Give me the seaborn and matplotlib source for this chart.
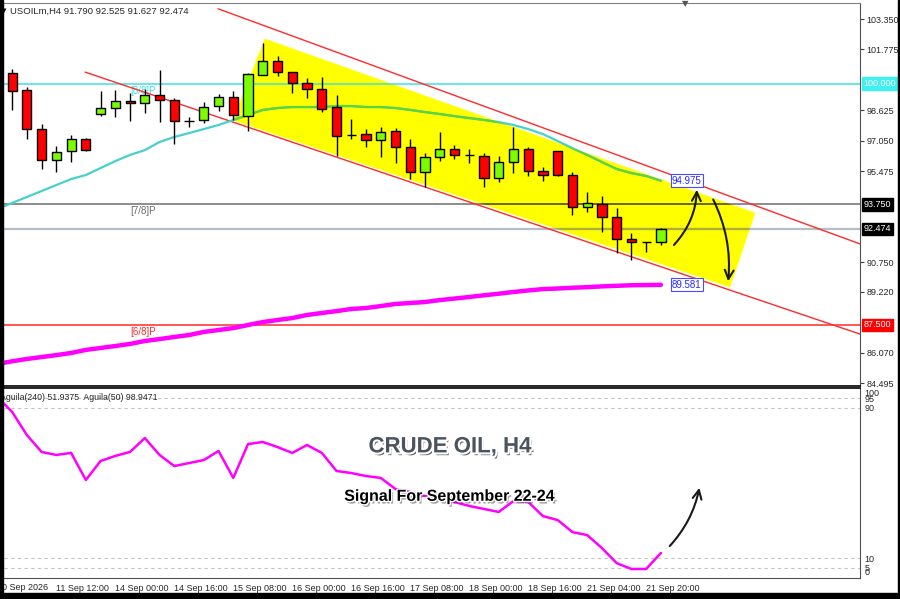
import numpy as np
import pandas as pd
import matplotlib
matplotlib.use("Agg")
import matplotlib.pyplot as plt
import matplotlib.patheffects as pe
from matplotlib.patches import Polygon, FancyArrowPatch, Rectangle
import seaborn as sns

# USOILm H4 candles, oldest first
opens = [100.55, 99.67, 97.65, 96.05, 96.51, 97.13, 98.43, 98.74, 99.10, 99.00,
         99.41, 99.15, 98.07, 98.12, 98.84, 99.31, 98.33, 100.45, 101.17, 100.60,
         100.04, 99.72, 98.79, 97.34, 97.39, 97.08, 97.55, 96.72, 95.42, 96.20,
         96.62, 96.31, 96.25, 95.11, 95.94, 96.62, 95.48, 96.51, 95.27, 93.61,
         93.77, 93.09, 91.95, 91.80, 91.790]
highs = [100.76, 99.83, 97.91, 96.77, 97.34, 97.18, 99.62, 99.67, 99.52, 99.72,
         100.71, 99.26, 98.27, 99.05, 99.47, 99.62, 100.55, 102.11, 101.43, 100.60,
         100.29, 100.35, 99.41, 98.17, 97.65, 97.76, 97.70, 97.13, 96.41, 97.50,
         96.82, 96.62, 96.41, 96.25, 97.76, 96.72, 95.68, 96.51, 95.43, 94.39,
         94.18, 93.56, 92.27, 91.80, 92.525]
lows = [98.64, 97.13, 95.58, 95.42, 95.94, 96.50, 98.33, 98.27, 98.07, 98.48,
        98.01, 96.88, 97.76, 97.96, 98.58, 98.12, 97.55, 100.45, 100.40, 99.52,
        99.26, 98.53, 96.25, 97.13, 96.72, 96.20, 95.89, 95.06, 94.65, 95.99,
        96.10, 95.89, 94.65, 94.91, 95.37, 95.22, 94.96, 95.22, 93.20, 93.35,
        92.32, 91.23, 90.87, 91.28, 91.627]
closes = [99.62, 97.65, 96.05, 96.46, 97.13, 96.56, 98.74, 99.10, 99.00, 99.41,
          99.15, 98.07, 98.07, 98.79, 99.31, 98.38, 100.50, 101.17, 100.60, 100.04,
          99.72, 98.69, 97.29, 97.34, 97.08, 97.50, 96.72, 95.42, 96.20, 96.62,
          96.31, 96.31, 95.11, 95.94, 96.62, 95.48, 95.27, 95.27, 93.61, 93.82,
          93.09, 91.95, 91.80, 91.80, 92.474]

# indicators, one value per bar starting one bar before the first candle
ma_fast = [93.51,
           93.82, 94.13, 94.44, 94.75, 95.06, 95.27, 95.63, 95.99, 96.31, 96.56,
           96.98, 97.24, 97.44, 97.65, 97.86, 98.12, 98.38, 98.64, 98.74, 98.79,
           98.79, 98.79, 98.84, 98.84, 98.79, 98.79, 98.74, 98.64, 98.53, 98.43,
           98.32, 98.22, 98.12, 98.01, 97.86, 97.65, 97.39, 97.03, 96.66, 96.31,
           95.94, 95.58, 95.37, 95.22, 94.975]
ma_slow = [85.48,
           85.62, 85.74, 85.84, 85.94, 86.05, 86.21, 86.31, 86.41, 86.52, 86.67,
           86.77, 86.88, 86.98, 87.14, 87.24, 87.34, 87.50, 87.65, 87.76, 87.86,
           88.02, 88.12, 88.22, 88.33, 88.38, 88.48, 88.59, 88.64, 88.69, 88.79,
           88.87, 88.95, 89.04, 89.12, 89.21, 89.29, 89.36, 89.39, 89.43, 89.46,
           89.50, 89.53, 89.56, 89.57, 89.581]
aguila = [95.7,
          87.8, 75.5, 66.5, 64.9, 66.0, 51.6, 61.7, 64.4, 66.5, 73.9,
          64.9, 59.0, 60.6, 62.2, 67.0, 52.7, 70.7, 71.8, 69.1, 66.0,
          70.2, 66.0, 56.4, 55.3, 53.7, 52.7, 46.8, 45.2, 43.1, 42.6,
          39.9, 37.8, 36.2, 34.6, 40.4, 39.9, 32.4, 30.3, 23.9, 22.3,
          15.4, 7.4, 4.3, 4.3, 12.8]

price_ticks = [103.350, 101.775, 98.625, 97.050, 95.475, 90.750, 89.220, 86.070, 84.495]
osc_ticks = [100, 95, 90, 10, 5, 0]
time_ticks = [3, 7, 11, 15, 19, 23, 27, 31, 35, 39, 43]
time_labels = ["11 Sep 12:00", "14 Sep 00:00", "14 Sep 16:00", "15 Sep 08:00",
               "16 Sep 00:00", "16 Sep 16:00", "17 Sep 08:00", "18 Sep 00:00",
               "18 Sep 16:00", "21 Sep 04:00", "21 Sep 20:00"]

# murrey levels and bid
level_values = [100.0, 93.75, 87.5]
level_names = ["[8/8]P", "[7/8]P", "[6/8]P"]
level_colors = ["#40e0e0", "#6e6e6e", "#ff2a2a"]
bid = 92.474

# drawn trend channel
chan_x = [17.15, 50.37, 48.68, 14.98]
chan_y = [102.31, 93.30, 89.47, 98.12]
upper_x, upper_y = [13.97, 57.5], [103.88, 91.70]
lower_x, lower_y = [4.95, 57.5], [100.60, 87.03]

sns.set_style("white")
plt.rcParams['font.family'] = ['Liberation Sans', 'DejaVu Sans']

W, H = 900, 599
fig = plt.figure(figsize=(9, 5.99), dpi=100)


def fbox(x0, y0, x1, y1):
    return [x0 / W, 1 - y1 / H, (x1 - x0) / W, (y1 - y0) / H]


ax = fig.add_axes(fbox(4, 3, 860, 386))
ax2 = fig.add_axes(fbox(4, 388, 860, 578), sharex=ax)

# yellow channel
chan = Polygon(list(zip(chan_x, chan_y)), closed=True, fc="#ffff00", ec="#ffff00", lw=0.5, zorder=1)
ax.add_patch(chan)

# horizontal levels (darker where they cross the yellow)
for v, name, col in zip(level_values, level_names, level_colors):
    ax.axhline(v, color=col, lw=1.1, zorder=2)
    ax.annotate(name, xy=(8.0, v), xytext=(0, -1.5), textcoords="offset points",
                va="top", ha="left", fontsize=7, color=col, zorder=2)
ax.axhline(bid, color="#b4bec8", lw=1.6, zorder=2)
l1 = ax.axhline(level_values[1], color="#606000", lw=1.1, zorder=2)
l1.set_clip_path(chan)
l2 = ax.axhline(bid, color="#b0b030", lw=1.6, zorder=2)
l2.set_clip_path(chan)

ax.plot(upper_x, upper_y, color="#ff2a2a", lw=1, zorder=3)
ax.plot(lower_x, lower_y, color="#ff2a2a", lw=1, zorder=3)

ind = pd.DataFrame({"bar": np.arange(-1, len(opens)), "fast": ma_fast,
                    "slow": ma_slow, "aguila": aguila})
sns.lineplot(data=ind, x="bar", y="fast", ax=ax, color="#48d1cc", lw=1.6, zorder=3)
sns.lineplot(data=ind, x="bar", y="fast", ax=ax, color="#5fd43a", lw=1.6, zorder=3)
ax.lines[-1].set_clip_path(chan)
sns.lineplot(data=ind, x="bar", y="slow", ax=ax, color="#ff00ff", lw=3.2, zorder=3)

# candles
bars = np.arange(len(opens))
o = np.array(opens)
c = np.array(closes)
body_col = np.where(c > o, "#7cfc00", "#ff0000")
ax.vlines(bars, lows, highs, color="black", lw=1, zorder=4)
ax.bar(bars, np.abs(c - o), bottom=np.minimum(o, c), width=0.62, color=body_col,
       edgecolor="black", linewidth=1, zorder=5)

# value boxes on the chart
for v in [ma_fast[-1], ma_slow[-1]]:
    ax.text(44.75, v, f"{v:.3f}", ha="left", va="center", fontsize=7, color="#2828ff",
            bbox=dict(boxstyle="square,pad=0.15", fc="white", ec="#4a4aff", lw=0.8), zorder=7)

# curved arrows
for (xa, ya), (xb, yb), rad in [((44.75, 91.54), (46.44, 94.65), 0.2),
                                ((47.46, 94.13), (48.54, 89.62), -0.15)]:
    ax.add_patch(FancyArrowPatch((xa, ya), (xb, yb), connectionstyle=f"arc3,rad={rad}",
                                 arrowstyle="->", mutation_scale=16, lw=1.5, color="#1a1a1a", zorder=8))

ax.set_xlim(-0.55, 57.5)
ax.set_ylim(84.34, 104.18)
ax.set_xlabel("")
ax.set_ylabel("")
ax.yaxis.tick_right()
ax.set_yticks(price_ticks)
ax.set_yticklabels([f"{v:.3f}" for v in price_ticks])
ax.tick_params(axis="y", direction="out", length=3, pad=1.5, labelsize=6.5, color="#404040")
ax.tick_params(axis="x", bottom=False, labelbottom=False)

tr = ax.get_yaxis_transform()
for v, fc in [(100.0, "#3ff0f0"), (93.75, "black"), (bid, "black"), (87.5, "#ff0000")]:
    ax.text(1.004, v, f"{v:.3f}", transform=tr, ha="left", va="center", fontsize=6.5,
            color="white", bbox=dict(boxstyle="square,pad=0.2", fc=fc, ec=fc),
            clip_on=False, zorder=10)

ax.spines["left"].set_visible(False)
ax.spines["right"].set_color("#505050")
ax.spines["top"].set_color("#808080")
ax.spines["bottom"].set_color("black")
ax.spines["bottom"].set_linewidth(1.2)

# oscillator panel
for lv in [95, 90, 10, 5]:
    ax2.axhline(lv, color="#c4c4c4", lw=0.8, ls=(0, (3, 3)), zorder=1)
sns.lineplot(data=ind, x="bar", y="aguila", ax=ax2, color="#ff00ff", lw=1.8, zorder=3)
ax2.add_patch(FancyArrowPatch((44.47, 15.4), (46.64, 48.9), connectionstyle="arc3,rad=0.15",
                              arrowstyle="->", mutation_scale=16, lw=1.5, color="#1a1a1a", zorder=8))
ax2.set_ylim(-0.5, 100.5)
ax2.set_xlabel("")
ax2.set_ylabel("")
ax2.yaxis.tick_right()
ax2.set_yticks(osc_ticks)
ax2.set_yticklabels([str(v) for v in osc_ticks])
ax2.tick_params(axis="y", direction="out", length=0, pad=3, labelsize=6.5)
for lab, v in zip(ax2.get_yticklabels(), osc_ticks):
    if v == 100:
        lab.set_va("top")
    elif v == 0:
        lab.set_va("bottom")
ax2.set_xticks(time_ticks)
ax2.set_xticklabels(time_labels, ha="left")
ax2.tick_params(axis="x", direction="out", length=3, pad=1, labelsize=6.5, color="#404040")
ax2.spines["left"].set_visible(False)
ax2.spines["top"].set_color("black")
ax2.spines["top"].set_linewidth(1.2)
ax2.spines["right"].set_color("#505050")
ax2.spines["bottom"].set_color("#505050")

ax2.text(0.521, 0.69, "CRUDE OIL, H4", transform=ax2.transAxes, ha="center", va="center",
         fontsize=16, fontweight="bold", color="#4a545e", zorder=9,
         path_effects=[pe.SimplePatchShadow(offset=(1.5, -2), shadow_rgbFace="#222222", alpha=0.7),
                       pe.Stroke(linewidth=3, foreground="white"), pe.Normal()])
ax2.text(0.521, 0.43, "Signal For September 22-24", transform=ax2.transAxes, ha="center",
         va="center", fontsize=11.5, fontweight="bold", color="black", zorder=9,
         path_effects=[pe.SimplePatchShadow(offset=(1.5, -2), shadow_rgbFace="#444444", alpha=0.5),
                       pe.Stroke(linewidth=2, foreground="white"), pe.Normal()])

# headers and frame
fig.text(1 / W, 1 - 11 / H, "▼", fontsize=5, color="black", va="center", family="DejaVu Sans")
fig.text(10 / W, 1 - 11 / H, "USOILm,H4 91.790 92.525 91.627 92.474", fontsize=6.8, va="center")
fig.text(0 / W, 1 - 397 / H, "Aguila(240) 51.9375  Aguila(50) 98.9471", fontsize=6.3, va="center")
fig.text(-3 / W, 1 - 587 / H, "10 Sep 2026", fontsize=6.5, va="center")
fig.text(685 / W, 1 - 4 / H, "▼", fontsize=6, color="#555555", ha="center", va="center", family="DejaVu Sans")
fig.patches.append(Rectangle((0, 0), 3 / W, 1, transform=fig.transFigure, color="black", zorder=20))
fig.patches.append(Rectangle((0, 0), 1, 6 / H, transform=fig.transFigure, color="black", zorder=20))
fig.patches.append(Rectangle((1 - 2 / W, 0), 2 / W, 1, transform=fig.transFigure, color="black", zorder=20))

fig.savefig("out.png", dpi=100, facecolor="white")
